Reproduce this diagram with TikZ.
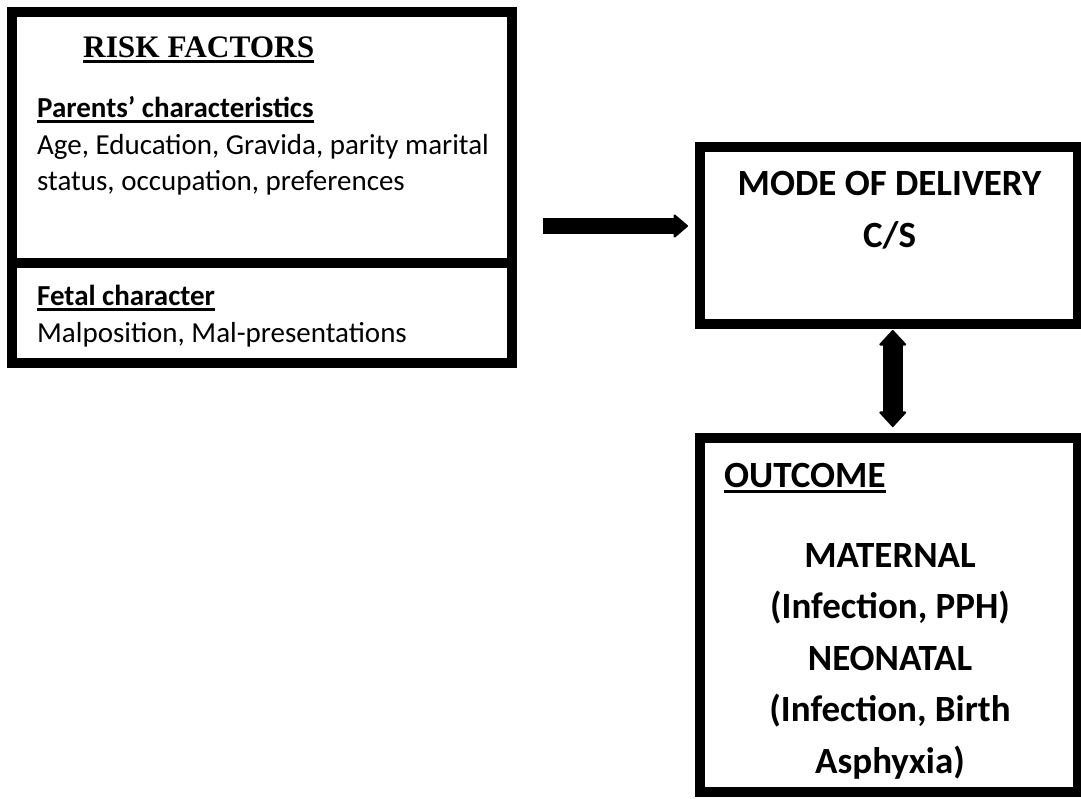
\documentclass[tikz,border=0pt]{standalone}
\usepackage{fontspec}
\setmainfont{Carlito}
\newfontfamily\timesfont{Liberation Serif}
\usetikzlibrary{arrows.meta}
\newcommand\undertext[1]{\setbox0=\hbox{#1}\rlap{\rule[-6pt]{\wd0}{3pt}}\box0}
\tikzset{
%Define standard arrow tip
>={Triangle[length=15pt,width=25pt,line width=2pt,round]},
%Define styles for boxes, texts and arrows
box/.style={draw, line width=10pt, inner sep=0pt},
body text/.style={inner sep=0pt, anchor=base west, align=left, font=\fontsize{29}{36}\selectfont},
big text/.style={inner sep=0pt, anchor=base, align=center, font=\bfseries\fontsize{37}{51.5}\selectfont},
fat arrow/.style={line width=16pt, ->},
fat double/.style={line width=20pt, {Triangle[length=16pt,width=29pt,line width=2pt,round]}-{Triangle[length=16pt,width=29pt,line width=2pt,round]}},
}

\begin{document}
\begin{tikzpicture}[x=1pt,y=-1pt]
    \useasboundingbox (0,0) rectangle (1081,798);

    % risk factors
    \node[box, minimum width=500pt, minimum height=251pt] (parents) at (262,137.5) {};
    \node[box, minimum width=500pt, minimum height=100pt] (fetal) at (262,313) {};
    \node[inner sep=0pt, anchor=base west, font=\timesfont\bfseries\fontsize{31.3}{36}\selectfont] (risk) at (83,57) {\undertext{RISK FACTORS}};
    \node[body text] (partitle) at (37,117) {\bfseries\undertext{Parents’ characteristics}};
    % multi-line nodes sit on their last line
    \node[body text] (parlist) at (37,190) {Age, Education, Gravida, parity marital\\status, occupation, preferences};
    \node[body text] (fettitle) at (37,305) {\bfseries\undertext{Fetal character}};
    \node[body text] (fetlist) at (37,342) {Malposition, Mal-presentations};

    % mode of delivery
    \node[box, minimum width=378.5pt, minimum height=177pt] (mode) at (888.75,235) {};
    \node[big text] (modetext) at (889.5,247) {MODE OF DELIVERY\\C/S};

    % outcome
    \node[box, minimum width=378.5pt, minimum height=354.5pt] (outcome) at (888.75,614.75) {};
    \node[big text, anchor=base west] (outtitle) at (724,487) {\undertext{OUTCOME}};
    \node[big text] (outtext) at (890,773) {MATERNAL\\(Infection, PPH)\\NEONATAL\\(Infection, Birth\\Asphyxia)};

    % arrows
    \coordinate (start) at (543,226);
    \draw[fat arrow, shorten >=6.5pt] (start) -- (start -| mode.west);
    \draw[fat double, shorten <=1.5pt, shorten >=5.5pt] ([xshift=4pt]mode.south) -- ([xshift=4pt]outcome.north);
\end{tikzpicture}
\end{document}
